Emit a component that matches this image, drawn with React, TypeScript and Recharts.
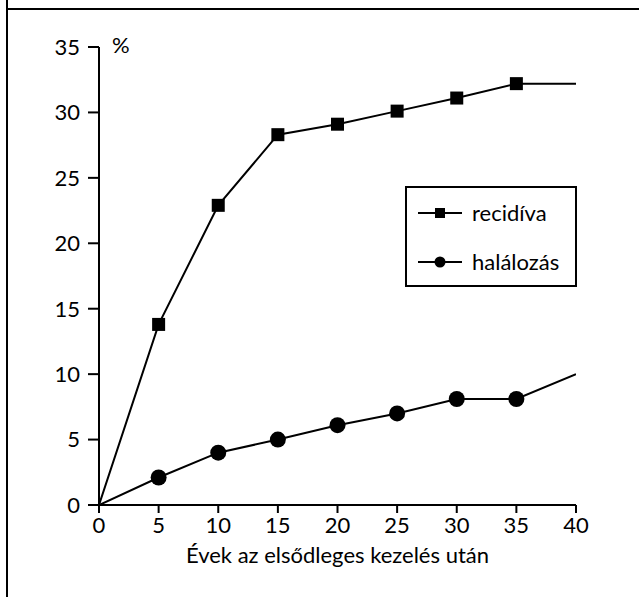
import React from 'react';
import { LineChart, Line, XAxis, YAxis, Legend } from 'recharts';

const years = [0, 5, 10, 15, 20, 25, 30, 35, 40];
const recidiva = [0, 13.8, 22.9, 28.3, 29.1, 30.1, 31.1, 32.2, 32.2];
const halalozas = [0, 2.1, 4.0, 5.0, 6.1, 7.0, 8.1, 8.1, 10.0];
const xTicks = [0, 5, 10, 15, 20, 25, 30, 35, 40];
const yTicks = [0, 5, 10, 15, 20, 25, 30, 35];
const seriesNames = { rec: 'recidíva', hal: 'halálozás' };
const xTitle = 'Évek az elsődleges kezelés után';
const yUnit = '%';

const data = years.map((y, i) => ({ year: y, rec: recidiva[i], hal: halalozas[i] }));
const lastIndex = years.length - 1;
const FONT = 'Lato, "Open Sans", sans-serif';

const SquareDot = (props: any) => {
  const { cx, cy, index } = props;
  if (index === 0 || index === lastIndex) return <g key={`s-${index}`} />;
  return <rect key={`s-${index}`} x={cx - 6.5} y={cy - 6.5} width={13} height={13} fill="#000" />;
};

const CircleDot = (props: any) => {
  const { cx, cy, index } = props;
  if (index === 0 || index === lastIndex) return <g key={`c-${index}`} />;
  return <circle key={`c-${index}`} cx={cx} cy={cy} r={8} fill="#000" />;
};

const renderLegend = () => (
  <div
    style={{
      boxSizing: 'border-box',
      width: 172,
      height: 101,
      border: '2px solid #000',
      background: '#fff',
      fontFamily: FONT,
      fontSize: 22,
      color: '#000',
      position: 'relative',
    }}
  >
    {[
      { name: seriesNames.rec, shape: 'square', top: 25 },
      { name: seriesNames.hal, shape: 'circle', top: 74 },
    ].map((e) => (
      <div key={e.name} style={{ position: 'absolute', left: 0, top: e.top - 16, height: 32, display: 'flex', alignItems: 'center' }}>
        <svg width={58} height={32} style={{ display: 'block' }}>
          <line x1={11} y1={16} x2={55} y2={16} stroke="#000" strokeWidth={2} />
          {e.shape === 'square' ? (
            <rect x={28} y={11} width={10} height={10} fill="#000" />
          ) : (
            <circle cx={33} cy={16} r={5.5} fill="#000" />
          )}
        </svg>
        <span style={{ marginLeft: 7, lineHeight: '32px' }}>{e.name}</span>
      </div>
    ))}
  </div>
);

export default function App() {
  return (
    <div style={{ position: 'absolute', left: 0, top: 0, width: 639, height: 597, background: '#fff' }}>
      <div style={{ position: 'absolute', left: 6, top: 0, width: 2, height: 597, background: '#000' }} />
      <div style={{ position: 'absolute', left: 6, top: 8, width: 633, height: 2, background: '#000' }} />
      <LineChart
        width={639}
        height={597}
        data={data}
        margin={{ top: 47, right: 63, bottom: 32, left: 0 }}
        style={{ fontFamily: FONT }}
      >
        <XAxis
          dataKey="year"
          type="number"
          domain={[0, 40]}
          ticks={xTicks}
          allowDataOverflow
          height={60}
          tickSize={8}
          tickMargin={4}
          axisLine={{ stroke: '#000', strokeWidth: 2 }}
          tickLine={{ stroke: '#000', strokeWidth: 2 }}
          tick={{ fill: '#000', fontSize: 22, fontFamily: FONT }}
          label={{ value: xTitle, position: 'insideBottom', offset: 2, fill: '#000', fontSize: 22, fontFamily: FONT }}
        />
        <YAxis
          type="number"
          domain={[0, 35]}
          ticks={yTicks}
          width={99}
          tickSize={11}
          tickMargin={8}
          axisLine={{ stroke: '#000', strokeWidth: 2 }}
          tickLine={{ stroke: '#000', strokeWidth: 2 }}
          tick={{ fill: '#000', fontSize: 22, fontFamily: FONT }}
          label={{
            value: yUnit,
            content: () => (
              <text x={112} y={53} fill="#000" fontSize={22} fontFamily={FONT}>
                {yUnit}
              </text>
            ),
          }}
        />
        <Legend
          layout="vertical"
          align="center"
          verticalAlign="middle"
          content={renderLegend}
          wrapperStyle={{ left: 405, top: 186, width: 172, height: 101 }}
        />
        <Line
          dataKey="rec"
          name={seriesNames.rec}
          type="linear"
          stroke="#000"
          strokeWidth={2}
          dot={SquareDot}
          activeDot={false}
          isAnimationActive={false}
        />
        <Line
          dataKey="hal"
          name={seriesNames.hal}
          type="linear"
          stroke="#000"
          strokeWidth={2}
          dot={CircleDot}
          activeDot={false}
          isAnimationActive={false}
        />
      </LineChart>
    </div>
  );
}
